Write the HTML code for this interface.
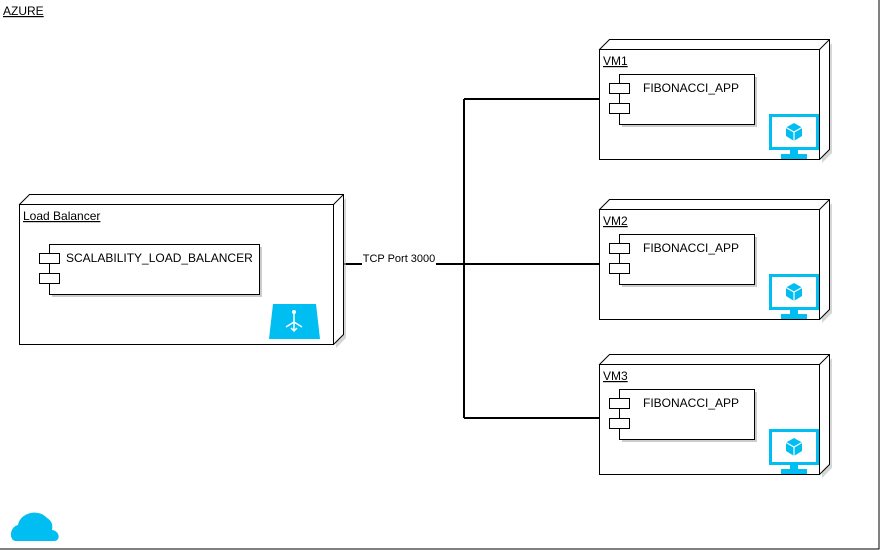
<!DOCTYPE html>
<html><head><style>body{margin:0;background:#fff}svg{display:block}</style></head><body>
<svg width="880" height="550" viewBox="0 0 880 550" xmlns="http://www.w3.org/2000/svg" font-family="Liberation Sans, sans-serif" font-size="12">
<defs>
<g id="mon">
<rect x="1.5" y="1.5" width="47" height="33" fill="#fff" stroke="#00bef2" stroke-width="3"/>
<rect x="21" y="35" width="8" height="6" fill="#00bef2"/>
<rect x="12" y="40" width="26" height="5" fill="#00bef2"/>
<path d="M25 9 L33 13.5 L33 22 L25 27 L17 22 L17 13.5 Z" fill="#00bef2"/>
<path d="M17 13.5 L25 18 L33 13.5 M25 18 L25 27" stroke="#fff" stroke-width="1.2" fill="none"/>
</g>
</defs>
<rect x="-1" y="-1" width="880" height="550" fill="none" stroke="#000"/>
<text x="3" y="15" text-decoration="underline">AZURE</text>
<!-- connectors -->
<g stroke="#000" stroke-width="2" fill="none">
<path d="M343 264 H599 M464 99 V418 M464 99 H599 M464 418 H599"/>
</g>
<rect x="362" y="251" width="74" height="14" fill="#fff"/>
<text x="399" y="262" text-anchor="middle" font-size="11">TCP Port 3000</text>
<!-- LB node -->
<g stroke="#000" fill="#fff">
<path d="M22 348 H336 V208 L346 198 V338 L336 348 Z" fill="#bbb" stroke="none" opacity=".6"/>
<path d="M19.5 204.5 L29.5 194.5 H343.5 V334.5 L333.5 344.5 Z"/>
<rect x="19.5" y="204.5" width="314" height="140"/>
<path d="M333.5 204.5 L343.5 194.5" fill="none"/>
<rect x="52" y="247" width="210" height="50" fill="#ccc" stroke="none"/>
<rect x="49.5" y="244.5" width="210" height="50"/>
<rect x="39.5" y="253.5" width="20" height="10"/>
<rect x="39.5" y="273.5" width="20" height="10"/>
</g>
<text x="23" y="220" text-decoration="underline">Load Balancer</text>
<text x="66" y="262">SCALABILITY_LOAD_BALANCER</text>
<path d="M273 304 H316 L320 339 H269 Z" fill="#00bef2"/>
<g stroke="#fff" stroke-width="1.5" fill="none"><path d="M294 313 V331 M294 322 L286 327 M294 322 L302 327 M291 328 L294 331 L297 328"/></g>
<circle cx="294" cy="312" r="2" fill="#fff"/>
<!-- VMs -->
<g id="vm">
<g stroke="#000" fill="#fff">
<path d="M602 163 H822 V53 L832 43 V153 L822 163 Z" fill="#bbb" stroke="none" opacity=".6"/>
<path d="M599.5 49.5 L609.5 39.5 H829.5 V149.5 L819.5 159.5 Z"/>
<rect x="599.5" y="49.5" width="220" height="110"/>
<path d="M819.5 49.5 L829.5 39.5" fill="none"/>
<rect x="622" y="77" width="135" height="50" fill="#ccc" stroke="none"/>
<rect x="619.5" y="74.5" width="135" height="50"/>
<rect x="609.5" y="83.5" width="20" height="10"/>
<rect x="609.5" y="103.5" width="20" height="10"/>
</g>
<text x="643" y="92">FIBONACCI_APP</text>
<use href="#mon" x="769" y="114"/>
</g>
<text x="603" y="65" text-decoration="underline">VM1</text>
<use href="#vm" y="160"/>
<text x="603" y="225" text-decoration="underline">VM2</text>
<use href="#vm" y="315"/>
<text x="603" y="380" text-decoration="underline">VM3</text>
<!-- cloud -->
<path d="M16 541 C9 541 9 527 18 525 C20 513 38 508 47 518 C52 521 53 525 52 530 C60 531 61 541 54 541 Z" fill="#00bef2"/>
</svg>
</body></html>
